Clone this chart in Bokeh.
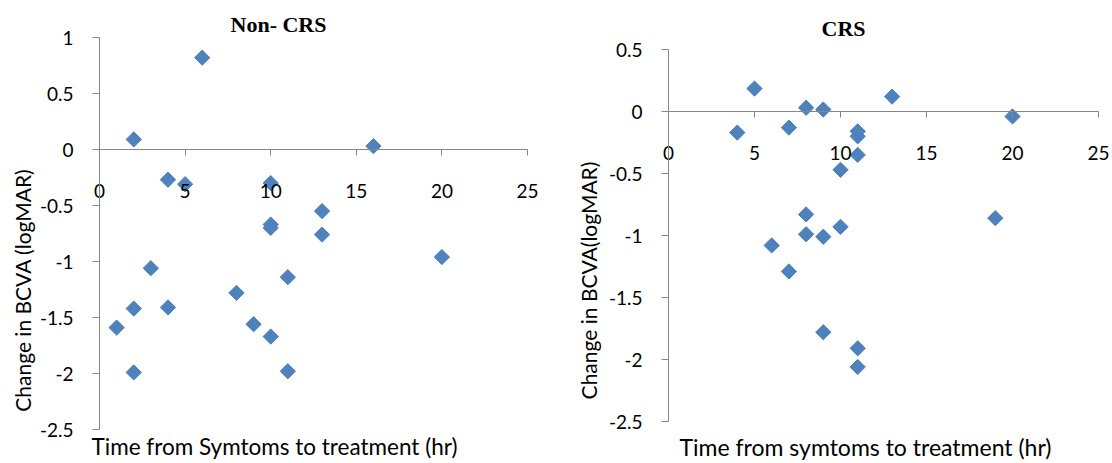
import math
from bokeh.plotting import figure
from bokeh.models import (LinearAxis, FixedTicker, CustomJSTickFormatter, Label,
                          Range1d, ColumnDataSource)
from bokeh.layouts import row
from bokeh.embed import file_html
from bokeh.resources import INLINE

# ---------------- data ----------------
x_ticks = [0, 5, 10, 15, 20, 25]
noncrs_y_ticks = [-2.5, -2, -1.5, -1, -0.5, 0, 0.5, 1]
crs_y_ticks = [-2.5, -2, -1.5, -1, -0.5, 0, 0.5]

noncrs_time = [2, 6, 16, 4, 5, 10, 10, 10, 13, 13, 20, 3, 11, 8, 2, 4, 1, 9, 10, 2, 11]
noncrs_change = [0.09, 0.82, 0.03, -0.27, -0.31, -0.30, -0.67, -0.70, -0.55, -0.76,
                 -0.96, -1.06, -1.14, -1.28, -1.42, -1.41, -1.59, -1.56, -1.67, -1.99, -1.98]

crs_time = [5, 13, 8, 9, 20, 4, 7, 11, 11, 11, 10, 8, 19, 10, 8, 9, 6, 7, 9, 11, 11]
crs_change = [0.185, 0.12, 0.03, 0.016, -0.04, -0.17, -0.13, -0.16, -0.20, -0.35, -0.47,
              -0.83, -0.86, -0.93, -0.99, -1.01, -1.08, -1.29, -1.78, -1.91, -2.06]

titles = ["Non- CRS", "CRS"]
x_titles = ["Time from Symtoms to treatment (hr)", "Time from symtoms to treatment (hr)"]
y_titles = ["Change in BCVA  (logMAR)", "Change in BCVA(logMAR)"]

MARKER = "#4F81BD"
AXIS = "#868686"
SANS = "Lato"
SERIF = "Liberation Serif"

fmt = CustomJSTickFormatter(code="return tick.toString();")


def panel(xs, ys, yticks, width, height, box, title, xt, yt, pos, xt_size):
    # box: pixel extent (inside this figure) of the plotting area: left, right, top, bottom
    L, R, T, B = box
    x0, x1 = x_ticks[0], x_ticks[-1]
    y0, y1 = yticks[0], yticks[-1]
    kx = (x1 - x0) / (R - L)
    ky = (y1 - y0) / (B - T)
    xr = Range1d(x0 - L * kx, x1 + (width - R) * kx)
    yr = Range1d(y0 - (height - B) * ky, y1 + T * ky)

    p = figure(width=width, height=height, output_backend="svg", toolbar_location=None,
               x_range=xr, y_range=yr, x_axis_location=None, y_axis_location=None,
               min_border=0)
    p.outline_line_color = None
    p.xgrid.visible = False
    p.ygrid.visible = False
    p.background_fill_color = "white"
    p.border_fill_color = "white"

    ya = LinearAxis(fixed_location=x0, bounds=(y0, y1), ticker=FixedTicker(ticks=yticks),
                    formatter=fmt)
    ya.axis_line_color = AXIS
    ya.major_tick_line_color = AXIS
    ya.major_tick_in = 0
    ya.major_tick_out = 7
    ya.minor_tick_line_color = None
    ya.major_label_standoff = 19
    ya.major_label_text_font = SANS
    ya.major_label_text_font_size = "19px"
    ya.major_label_text_color = "#000000"
    p.add_layout(ya, "left")

    xa = LinearAxis(fixed_location=0, bounds=(x0, x1), ticker=FixedTicker(ticks=x_ticks),
                    formatter=fmt)
    xa.axis_line_color = AXIS
    xa.major_tick_line_color = AXIS
    xa.major_tick_in = 0
    xa.major_tick_out = 6
    xa.minor_tick_line_color = None
    xa.major_label_standoff = 28
    xa.major_label_text_font = SANS
    xa.major_label_text_font_size = "19px"
    xa.major_label_text_color = "#000000"
    p.add_layout(xa, "below")

    src = ColumnDataSource(dict(x=xs, y=ys))
    p.scatter("x", "y", source=src, marker="square", angle=math.pi / 4, size=10.8,
              fill_color=MARKER, line_color=MARKER)

    tx, ty, xx, xy, yx, yy = pos
    p.add_layout(Label(x=tx, y=height - ty, x_units="screen", y_units="screen", text=title,
                       text_font=SERIF, text_font_style="bold", text_font_size="22px",
                       text_align="center", text_baseline="middle", text_color="#000000"))
    p.add_layout(Label(x=xx, y=height - xy, x_units="screen", y_units="screen", text=xt,
                       text_font=SANS, text_font_size=xt_size,
                       text_align="center", text_baseline="middle", text_color="#000000"))
    p.add_layout(Label(x=yx, y=height - yy, x_units="screen", y_units="screen", text=yt,
                       angle=math.pi / 2,
                       text_font=SANS, text_font_size="21px",
                       text_align="center", text_baseline="middle", text_color="#000000"))
    return p


# positions are relative to each figure (left figure at x 0, right figure at x 560)
# left: plotting box x 99..527, y 37..429
p1 = panel(noncrs_time, noncrs_change, noncrs_y_ticks, 560, 463, (99, 527, 37, 429),
           titles[0], x_titles[0], y_titles[0],
           (278, 24, 274, 446, 22, 287), "22.5px")
# right: plotting box x 668..1098, y 49..421
p2 = panel(crs_time, crs_change, crs_y_ticks, 552, 463, (108, 538, 49, 421),
           titles[1], x_titles[1], y_titles[1],
           (283, 28, 305, 446, 28, 280), "23px")

layout = row(p1, p2)
open("out.html", "w").write(file_html(layout, INLINE))
